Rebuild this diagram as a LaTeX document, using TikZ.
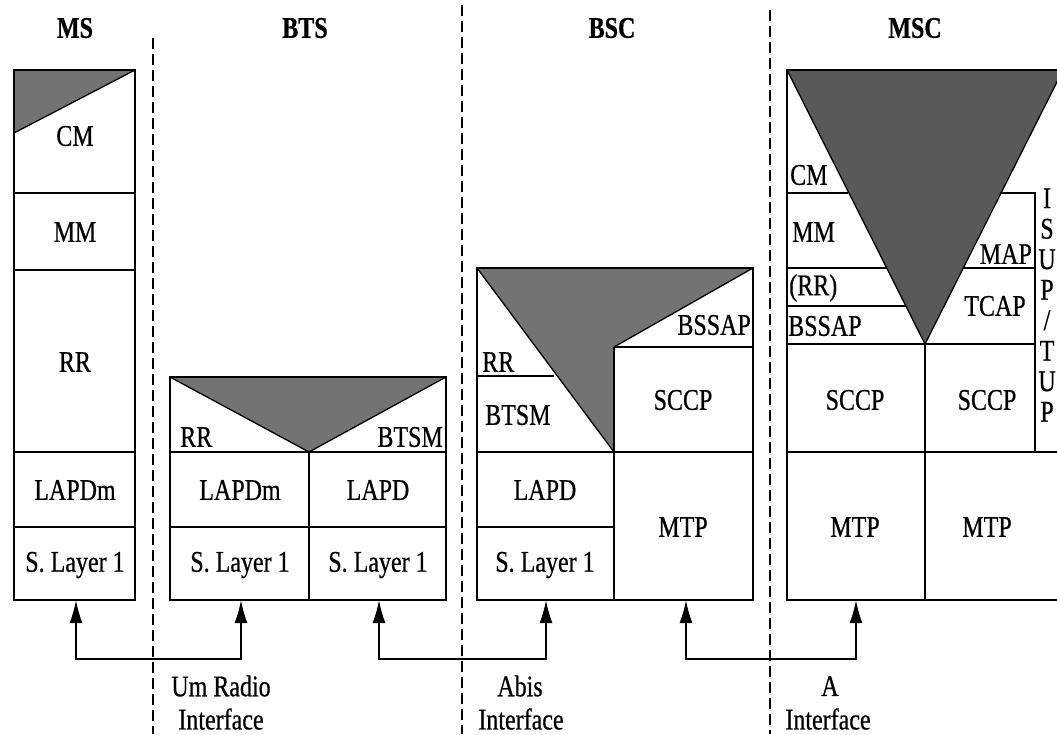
\documentclass[tikz,border=0pt]{standalone}
\usepackage{fontspec}
\setmainfont{Liberation Serif}[FakeStretch=0.8,FakeBold=0.6]
\usetikzlibrary{arrows.meta}
\tikzset{
  lbl/.style={inner sep=0pt, font=\fontsize{30}{32}\selectfont},
  hdr/.style={inner sep=0pt, font=\fontsize{30}{32}\selectfont\bfseries},
  outer/.style={line width=1.8pt, line join=miter},
  inner/.style={line width=1.3pt},
  shade/.style={fill=black!55},
  shadedark/.style={fill=black!65},
  divider/.style={line width=1.3pt, dash pattern=on 11pt off 5pt},
  link/.style={line width=1.7pt, {Latex[length=23pt,width=13pt]}-{Latex[length=23pt,width=13pt]}},
}
\begin{document}
\begin{tikzpicture}[x=1pt,y=-1pt]
\useasboundingbox (0,0) rectangle (1057,734);
\fill[white] (0,0) rectangle (1057,734);

% dashed separators
\draw[divider] (153,38) -- (153,734);
\draw[divider] (462,5) -- (462,734);
\draw[divider] (770,10) -- (770,734);

% headers
\node[hdr] (hMS) at (75,28) {MS};
\node[hdr] (hBTS) at (305,28) {BTS};
\node[hdr] (hBSC) at (612,28) {BSC};
\node[hdr] (hMSC) at (915,28) {MSC};

% ---------- MS ----------
\fill[shade] (14,70) -- (135,70) -- (14,133) -- cycle;
\draw[inner] (135,70) -- (14,133);
\draw[inner] (14,193) -- (135,193);
\draw[inner] (14,270) -- (135,270);
\draw[inner] (14,452) -- (135,452);
\draw[inner] (14,527) -- (135,527);
\draw[outer] (14,70) rectangle (135,600);
\node[lbl] (msCM) at (75,136) {CM};
\node[lbl] (msMM) at (75,232) {MM};
\node[lbl] (msRR) at (75,362) {RR};
\node[lbl] (msL2) at (75,490) {LAPDm};
\node[lbl] (msL1) at (75,565) {S. Layer 1};

% ---------- BTS ----------
\fill[shade] (170,377) -- (446,377) -- (309,452) -- cycle;
\draw[inner] (170,377) -- (309,452) -- (446,377);
\draw[inner] (170,452) -- (446,452);
\draw[inner] (170,527) -- (446,527);
\draw[inner] (309,452) -- (309,600);
\draw[outer] (170,377) rectangle (446,600);
\node[lbl, anchor=west] (btsRR) at (180,437) {RR};
\node[lbl, anchor=east] (btsBTSM) at (443,437) {BTSM};
\node[lbl] (btsL2a) at (240,490) {LAPDm};
\node[lbl] (btsL2b) at (378,490) {LAPD};
\node[lbl] (btsL1a) at (240,565) {S. Layer 1};
\node[lbl] (btsL1b) at (378,565) {S. Layer 1};

% ---------- BSC ----------
\fill[shade] (477,268) -- (753,268) -- (614,347) -- (614,452) -- cycle;
\draw[inner] (477,268) -- (614,452);
\draw[inner] (614,347) -- (753,268);
\draw[inner] (614,347) -- (753,347);
\draw[inner] (477,376) -- (554,376);
\draw[inner] (477,452) -- (753,452);
\draw[inner] (477,527) -- (614,527);
\draw[inner] (614,347) -- (614,600);
\draw[outer] (477,268) rectangle (753,600);
\node[lbl, anchor=west] (bscRR) at (482,362) {RR};
\node[lbl, anchor=west] (bscBTSM) at (485,415) {BTSM};
\node[lbl, anchor=east] (bscBSSAP) at (751,325) {BSSAP};
\node[lbl] (bscSCCP) at (683,400) {SCCP};
\node[lbl] (bscLAPD) at (545,490) {LAPD};
\node[lbl] (bscL1) at (545,565) {S. Layer 1};
\node[lbl] (bscMTP) at (683,527) {MTP};

% ---------- MSC ----------
\begin{scope}
\clip (0,0) rectangle (1057,734);
\fill[shadedark] (787,70) -- (1063,70) -- (925,344) -- cycle;
\draw[inner] (787,70) -- (925,344) -- (1063,70);
\draw[inner] (787,193) -- (848,193);
\draw[inner] (1000,193) -- (1035,193) -- (1035,452);
\draw[inner] (787,268) -- (887,268);
\draw[inner] (963,268) -- (1035,268);
\draw[inner] (787,306) -- (906,306);
\draw[inner] (787,344) -- (1035,344);
\draw[inner] (787,452) -- (1060,452);
\draw[inner] (925,344) -- (925,600);
\draw[outer] (1070,70) -- (787,70) -- (787,600) -- (1070,600);
\end{scope}
\node[lbl, anchor=west] (mscCM) at (790,175) {CM};
\node[lbl, anchor=west] (mscMM) at (792,232) {MM};
\node[lbl, anchor=west] (mscRR) at (789,288) {(RR)};
\node[lbl, anchor=west] (mscBSSAP) at (788,326) {BSSAP};
\node[lbl, anchor=east] (mscMAP) at (1032,254) {MAP};
\node[lbl] (mscTCAP) at (995,306) {TCAP};
\node[lbl] (mscSCCPa) at (855,400) {SCCP};
\node[lbl] (mscSCCPb) at (987,400) {SCCP};
\node[lbl] (mscMTPa) at (855,527) {MTP};
\node[lbl] (mscMTPb) at (987,527) {MTP};
\node[lbl, align=center, font=\fontsize{30}{30.5}\selectfont] (isup) at (1047,305)
  {I\\S\\U\\P\\/\\T\\U\\P};

% ---------- interfaces ----------
\coordinate (msB) at (76,600);
\coordinate (btsBa) at (241,600);
\coordinate (btsBb) at (379,600);
\coordinate (bscBa) at (546,600);
\coordinate (bscBb) at (686,600);
\coordinate (mscB) at (856,600);
\draw[link] (msB) -- ++(0,59) -| (btsBa);
\draw[link] (btsBb) -- ++(0,59) -| (bscBa);
\draw[link] (bscBb) -- ++(0,59) -| (mscB);

\node[lbl] (um1) at (221,686) {Um Radio};
\node[lbl] (um2) at (221,719) {Interface};
\node[lbl] (abis1) at (520,686) {Abis};
\node[lbl] (abis2) at (521,719) {Interface};
\node[lbl] (a1) at (830,686) {A};
\node[lbl] (a2) at (828,719) {Interface};
\end{tikzpicture}
\end{document}
